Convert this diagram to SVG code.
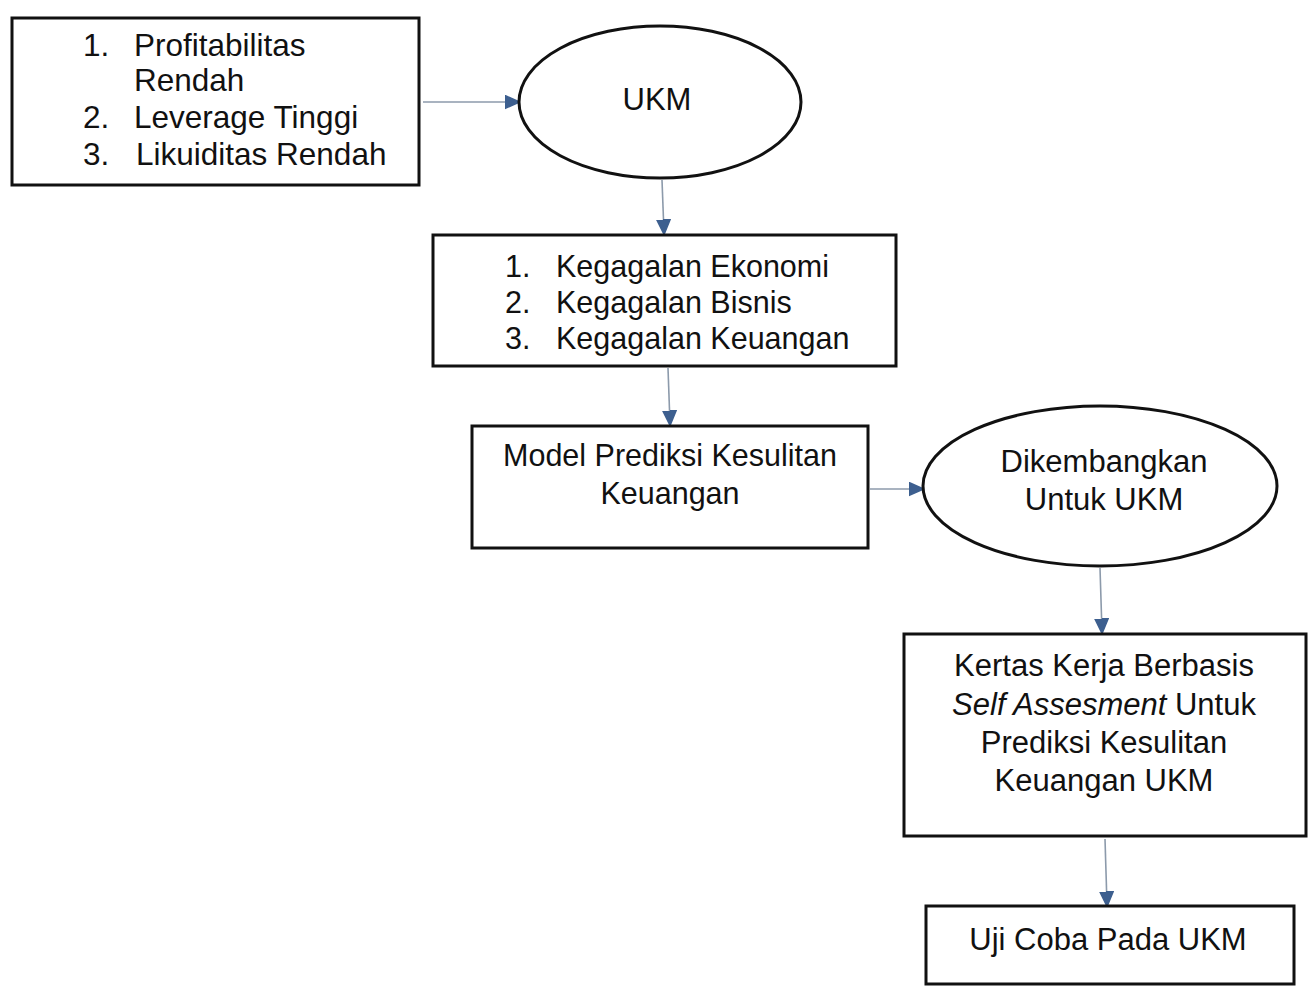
<svg xmlns="http://www.w3.org/2000/svg" width="1309" height="989" viewBox="0 0 1309 989">
<style>
.box{fill:#fff;stroke:#111;stroke-width:3}
.t{font-family:"Liberation Sans",Arial,sans-serif;font-size:31px;fill:#111}
.s{font-size:30.5px}
.b1{font-size:31.5px}
.c{text-anchor:middle}
.conn{stroke:#8c9aab;stroke-width:1.6;fill:none;marker-end:url(#ah)}
</style>
<defs>
<marker id="ah" viewBox="0 0 10 10" refX="9" refY="5" markerWidth="15" markerHeight="15" markerUnits="userSpaceOnUse" orient="auto">
<path d="M0,0.5 L10,5 L0,9.5 z" fill="#3d5f8f" stroke="#3d5f8f" stroke-width="1" stroke-linejoin="round"/>
</marker>
</defs>
<rect width="1309" height="989" fill="#fff"/>
<g id="connectors">
<line class="conn" x1="423" y1="102" x2="518" y2="102"/>
<line class="conn" x1="662" y1="180" x2="664" y2="233"/>
<line class="conn" x1="668" y1="368" x2="670" y2="424"/>
<line class="conn" x1="870" y1="489" x2="922" y2="489"/>
<line class="conn" x1="1100" y1="568" x2="1102" y2="632"/>
<line class="conn" x1="1105" y1="839" x2="1107" y2="905"/>
</g>
<g id="node-faktor">
<rect class="box" x="12" y="18" width="407" height="167"/>
<text class="t b1" x="83" y="56">1.</text><text class="t b1" x="134" y="56">Profitabilitas</text>
<text class="t b1" x="134" y="91">Rendah</text>
<text class="t b1" x="83" y="128">2.</text><text class="t b1" x="134" y="128">Leverage Tinggi</text>
<text class="t b1" x="83" y="165">3.</text><text class="t b1" x="136" y="165">Likuiditas Rendah</text>
</g>
<g id="node-ukm">
<ellipse class="box" cx="660" cy="102" rx="141" ry="76"/>
<text class="t c" x="657" y="110">UKM</text>
</g>
<g id="node-kegagalan">
<rect class="box" x="433" y="235" width="463" height="131"/>
<text class="t s" x="505" y="277">1.</text><text class="t s" x="556" y="277">Kegagalan Ekonomi</text>
<text class="t s" x="505" y="313">2.</text><text class="t s" x="556" y="313">Kegagalan Bisnis</text>
<text class="t s" x="505" y="349">3.</text><text class="t s" x="556" y="349">Kegagalan Keuangan</text>
</g>
<g id="node-model">
<rect class="box" x="472" y="426" width="396" height="122"/>
<text class="t s c" x="670" y="466">Model Prediksi Kesulitan</text>
<text class="t s c" x="670" y="504">Keuangan</text>
</g>
<g id="node-dikembangkan">
<ellipse class="box" cx="1100" cy="486" rx="177" ry="80"/>
<text class="t c" x="1104" y="472">Dikembangkan</text>
<text class="t c" x="1104" y="510">Untuk UKM</text>
</g>
<g id="node-kertas">
<rect class="box" x="904" y="634" width="402" height="202"/>
<text class="t c" x="1104" y="676">Kertas Kerja Berbasis</text>
<text class="t c" x="1104" y="715"><tspan font-style="italic">Self Assesment</tspan> Untuk</text>
<text class="t c" x="1104" y="753">Prediksi Kesulitan</text>
<text class="t c" x="1104" y="791">Keuangan UKM</text>
</g>
<g id="node-uji">
<rect class="box" x="926" y="906" width="368" height="78"/>
<text class="t c" x="1108" y="950">Uji Coba Pada UKM</text>
</g>
</svg>
